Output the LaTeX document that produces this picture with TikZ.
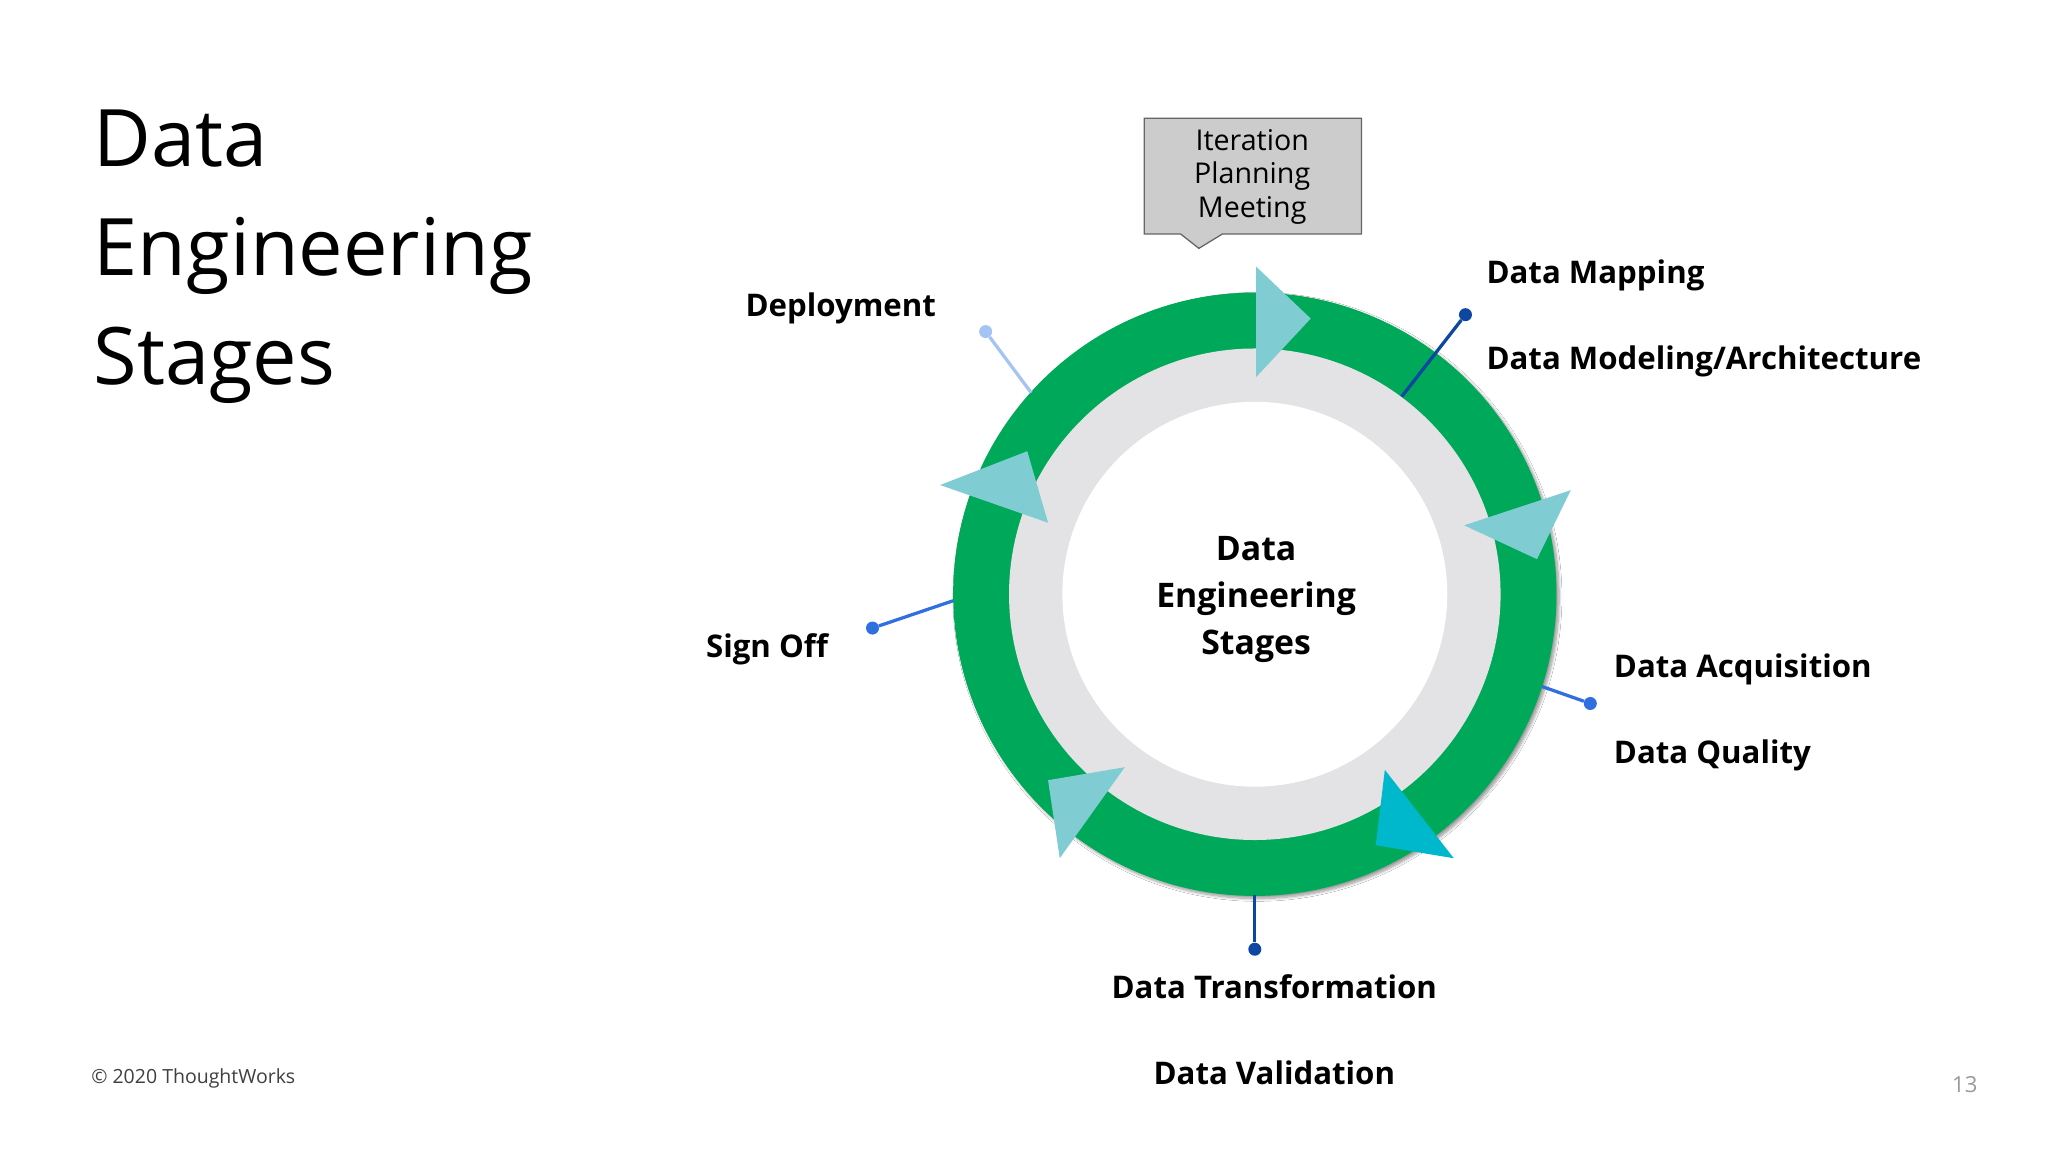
\documentclass[tikz,border=0pt]{standalone}
\usepackage{fontspec}
\setmainfont{Open Sans}
\usetikzlibrary{shadows.blur}
\definecolor{ringgreen}{HTML}{00A859}
\definecolor{ringgray}{HTML}{E3E3E5}
\definecolor{tri}{HTML}{7FCDD3}
\definecolor{tridark}{HTML}{00B8CC}
\definecolor{dblue}{HTML}{0D47A1}
\definecolor{mblue}{HTML}{2F6FE0}
\definecolor{lblue}{HTML}{A4C4F4}
\tikzset{
  lbl/.style={font=\fontsize{24}{28}\selectfont\bfseries, inner sep=0pt},
  dot/.style={circle, inner sep=0pt, minimum size=10pt},
}
\begin{document}
\begin{tikzpicture}[x=1pt,y=-1pt]
\useasboundingbox (0,0) rectangle (1575,886);
\fill[white] (0,0) rectangle (1575,886);
% title
\node[anchor=base west, inner sep=0pt, font=\fontsize{61}{84}\selectfont] (t1) at (72,128) {Data};
\node[anchor=base west, inner sep=0pt, font=\fontsize{61}{84}\selectfont] (t2) at (72,212) {Engineering};
\node[anchor=base west, inner sep=0pt, font=\fontsize{61}{84}\selectfont] (t3) at (72,296) {Stages};
% ring
\coordinate (c) at (965,457);
\fill[ringgreen, blur shadow={shadow blur steps=8, shadow xshift=2pt, shadow yshift=-2pt}] (c) circle (232);
\fill[ringgray] (c) circle (189);
\fill[white] (c) circle (148);
\node[align=center, font=\fontsize{26}{36}\selectfont\bfseries] (ctr) at (966,461) {Data\\Engineering\\Stages};
% triangles
\fill[tri] (966,205) -- (966,290) -- (1008,245) -- cycle;
\fill[tri] (1208,377) -- (1126,404) -- (1182,430) -- cycle;
\fill[tri] (723,373) -- (790,347) -- (806,402) -- cycle;
\fill[tri] (865,590) -- (806,600) -- (815,660) -- cycle;
\fill[tridark] (1065,592) -- (1058,650) -- (1118,660) -- cycle;
% box
\fill[gray!40, draw=gray!80!black, line width=1pt] (880,91) -- (1047,91) -- (1047,180) -- (940,180) -- (922,191) -- (908,180) -- (880,180) -- cycle;
\node[align=center, font=\fontsize{22}{26}\selectfont] (ipm) at (963,136) {Iteration\\Planning\\Meeting};
% connectors
\node[dot, fill=dblue] (dm) at (1127,242) {};
\coordinate (dmend) at (1078,305);
\draw[dblue, line width=2.5pt] (dm) -- (dmend);
\node[dot, fill=lblue] (dp) at (758,255) {};
\coordinate (dpend) at (793,302);
\draw[lblue, line width=2.5pt] (dp) -- (dpend);
\node[dot, fill=mblue] (so) at (671,483) {};
\coordinate (soend) at (733,462);
\draw[mblue, line width=2.5pt] (so) -- (soend);
\node[dot, fill=mblue] (da) at (1223,541) {};
\coordinate (daend) at (1186,528);
\draw[mblue, line width=2.5pt] (da) -- (daend);
\node[dot, fill=dblue] (dt) at (965,730) {};
\coordinate (dtend) at (965,688);
\draw[dblue, line width=2.5pt] (dt) -- (dtend);
% labels
\node[lbl, anchor=west] (l1) at (1143,212) {Data Mapping};
\node[lbl, anchor=west] (l2) at (1143,278) {Data Modeling/Architecture};
\node[lbl, anchor=east] (l3) at (720,237) {Deployment};
\node[lbl, anchor=east] (l4) at (637,499) {Sign Off};
\node[lbl, anchor=west] (l5) at (1241,515) {Data Acquisition};
\node[lbl, anchor=west] (l6) at (1241,581) {Data Quality};
\node[lbl] (l7) at (980,759) {Data Transformation};
\node[lbl] (l8) at (980,825) {Data Validation};
% footer
\node[anchor=west, inner sep=0pt, font=\fontsize{15}{18}\selectfont, text=black!75] (cp) at (70,829) {© 2020 ThoughtWorks};
\node[inner sep=0pt, font=\fontsize{17}{20}\selectfont, text=black!40] (pg) at (1511,834) {13};
\end{tikzpicture}
\end{document}
